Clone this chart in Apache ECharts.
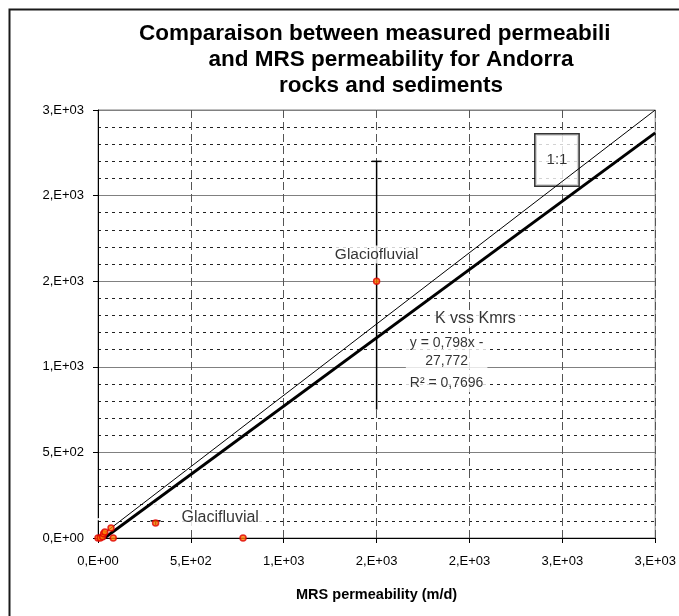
<!DOCTYPE html>
<html>
<head>
<meta charset="utf-8">
<script src="https://cdn.jsdelivr.net/npm/echarts@6/dist/echarts.min.js"></script>
<style>
  html, body { margin: 0; padding: 0; background: #fff; }
  #chart_view { width: 679px; height: 616px; }
</style>
</head>
<body>
<div id="chart_view"></div>
<script>
// values
var mrsPerm = [0, 12, 25, 30, 37, 70, 82, 310, 781, 1500];
var measuredPerm = [0, 0, 8, 25, 35, 58, 0, 88, 0, 1500];
var errLow = [null, null, null, null, null, null, null, 76, null, 750];
var errHigh = [null, null, null, null, null, null, null, 100, null, 2200];
var pointLabels = ['', '', '', '', '', '', '', '', '', 'Glaciofluvial'];

var oneToOneX = [0, 3000];
var oneToOneY = [0, 2500];
var trendX = [0, 3000];
var trendY = [-27.772, 2366.228];

var xTickLabels = ['0,E+00', '5,E+02', '1,E+03', '2,E+03', '2,E+03', '3,E+03', '3,E+03'];
var yTickLabels = ['0,E+00', '5,E+02', '1,E+03', '2,E+03', '2,E+03', '3,E+03'];

var noteX = [658, 2032, 1877, 1877];
var noteY = [117, 1279, 1088, 905];
var noteText = ['Glacifluvial', 'K vss Kmrs', 'y = 0,798x -\n27,772', 'R² = 0,7696'];
var noteSize = [16, 16, 14, 14];

var boxX = [2471];
var boxY = [2208];
var boxText = ['1:1'];

var font = "'Liberation Sans', Arial, sans-serif";

var myChart = echarts.init(document.getElementById('chart_view'));

function zip(a, b) {
    return a.map(function (v, i) { return [v, b[i]]; });
}

var pointData = mrsPerm.map(function (x, i) {
    return { value: [x, measuredPerm[i]], name: pointLabels[i] };
});
var errData = [];
mrsPerm.forEach(function (x, i) {
    if (errLow[i] !== null) errData.push([x, errLow[i], errHigh[i]]);
});
var noteData = noteX.map(function (x, i) {
    return { value: [x, noteY[i]], label: { formatter: noteText[i], fontSize: noteSize[i] } };
});
var boxData = boxX.map(function (x, i) {
    return { value: [x, boxY[i]], label: { formatter: boxText[i] } };
});

var titleStyle = { fontFamily: font, fontSize: 22.5, fontWeight: 'bold', color: '#000' };

var option = {
    animation: false,
    backgroundColor: '#fff',
    title: [
        { text: 'Comparaison between measured permeabili', left: 134, top: 17, textStyle: titleStyle },
        { text: 'and MRS permeability for Andorra', left: 386, top: 43, textAlign: 'center', textStyle: titleStyle },
        { text: 'rocks and sediments', left: 386, top: 69, textAlign: 'center', textStyle: titleStyle }
    ],
    graphic: [
        { type: 'rect', left: 7, top: 7, shape: { width: 700, height: 640 },
          style: { fill: 'none', stroke: '#1a1a1a', lineWidth: 2 }, z: 100 }
    ],
    grid: { left: 98, right: 20, top: 110, bottom: 78, show: true,
            borderColor: '#808080', borderWidth: 1, backgroundColor: '#fff' },
    xAxis: {
        type: 'value', min: 0, max: 3000, interval: 500,
        name: 'MRS permeability (m/d)', nameLocation: 'middle', nameGap: 49,
        nameTextStyle: { fontFamily: font, fontSize: 14.5, fontWeight: 'bold', color: '#000' },
        axisLine: { lineStyle: { color: '#000', width: 1 } },
        axisTick: { length: 5, lineStyle: { color: '#000' } },
        axisLabel: { fontFamily: font, fontSize: 13, color: '#000', margin: 17,
                     formatter: function (v) { return xTickLabels[Math.round(v / 500)]; } },
        splitLine: { show: true, lineStyle: { color: '#555', type: [8, 4], width: 1 } }
    },
    yAxis: {
        type: 'value', min: 0, max: 2500, interval: 500,
        axisLine: { show: true, lineStyle: { color: '#000', width: 1 } },
        axisTick: { show: true, length: 5, lineStyle: { color: '#000' } },
        axisLabel: { fontFamily: font, fontSize: 13, color: '#000', margin: 14,
                     formatter: function (v) { return yTickLabels[Math.round(v / 500)]; } },
        splitLine: { show: true, lineStyle: { color: '#808080', width: 1 } },
        minorTick: { show: false, splitNumber: 5 },
        minorSplitLine: { show: true, lineStyle: { color: '#222', type: [3, 4], width: 1 } }
    },
    series: [
        {
            type: 'scatter', data: boxData, symbolSize: 0, z: 1,
            label: { show: true, position: 'inside', fontFamily: font, fontSize: 15, color: '#000',
                     backgroundColor: '#fff', borderColor: '#000', borderWidth: 1.5,
                     padding: [18, 11, 18, 11] }
        },
        {
            type: 'line', data: zip(oneToOneX, oneToOneY), symbol: 'none', z: 3,
            lineStyle: { color: '#000', width: 1 }
        },
        {
            type: 'line', data: zip(trendX, trendY), symbol: 'none', clip: true, z: 3,
            lineStyle: { color: '#000', width: 3 }
        },
        {
            type: 'custom', data: errData, z: 4,
            renderItem: function (params, api) {
                var x = api.value(0);
                var lo = api.coord([x, api.value(1)]);
                var hi = api.coord([x, api.value(2)]);
                return {
                    type: 'group',
                    children: [
                        { type: 'line', shape: { x1: lo[0], y1: lo[1], x2: hi[0], y2: hi[1] },
                          style: { stroke: '#000', lineWidth: 1.5 } },
                        { type: 'line', shape: { x1: hi[0] - 5, y1: hi[1], x2: hi[0] + 5, y2: hi[1] },
                          style: { stroke: '#000', lineWidth: 1.5 } }
                    ]
                };
            }
        },
        {
            type: 'scatter', data: pointData, symbol: 'circle', symbolSize: 6, z: 5,
            itemStyle: { color: '#ff7a00', borderColor: '#e00000', borderWidth: 1.5 },
            label: { show: true, position: 'top', distance: 14, formatter: '{b}',
                     fontFamily: font, fontSize: 15.5, color: '#000', backgroundColor: '#fff',
                     padding: [1, 2] }
        },
        {
            type: 'scatter', data: noteData, symbolSize: 0, z: 6,
            label: { show: true, position: 'inside', fontFamily: font, color: '#000',
                     backgroundColor: '#fff', padding: [0, 4], lineHeight: 18, align: 'center' }
        }
    ]
};

myChart.setOption(option);
</script>
</body>
</html>
